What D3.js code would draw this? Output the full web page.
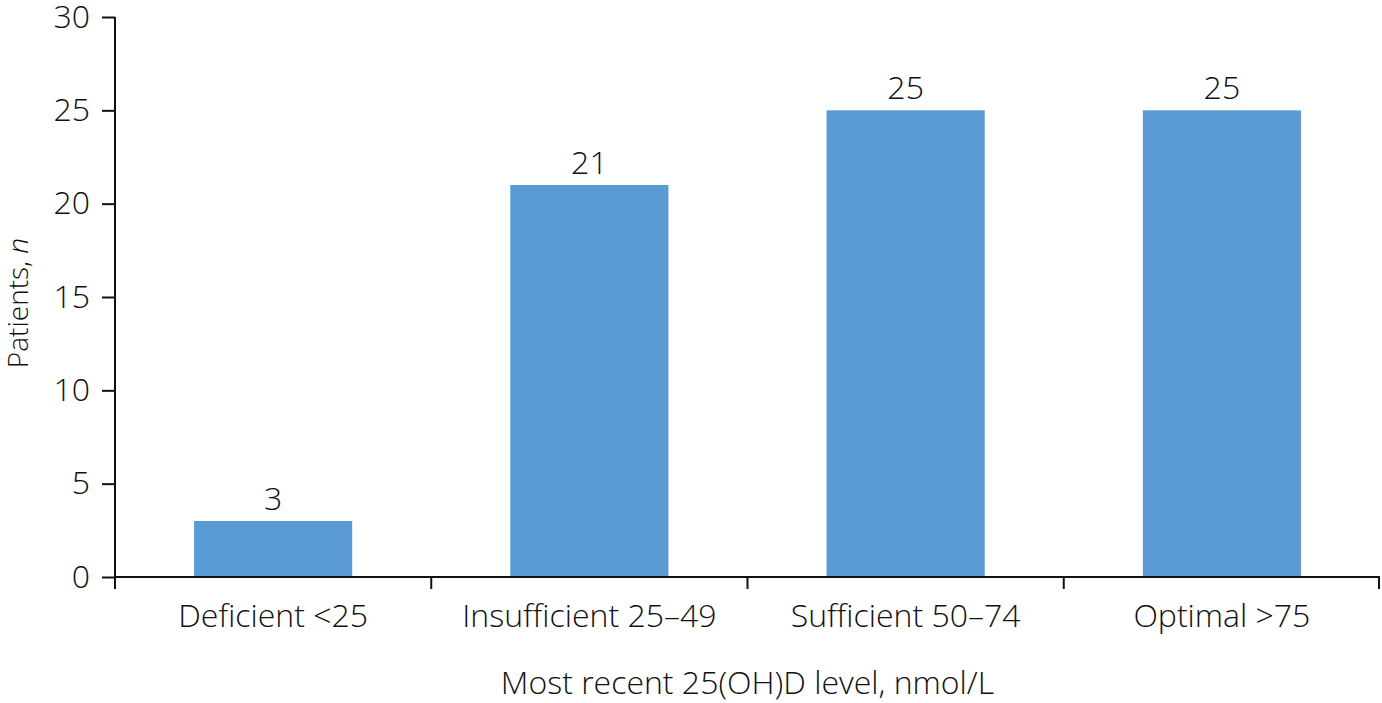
<!DOCTYPE html>
<html><head><meta charset="utf-8">
<script src="https://cdn.jsdelivr.net/npm/d3@7"></script>
<style>body{margin:0;background:#fff}svg text{font-family:"Open Sans",sans-serif;font-weight:300;fill:#111}</style>
</head><body><svg id="c" width="1382" height="703"></svg>
<script>
const categories = ["Deficient <25", "Insufficient 25–49", "Sufficient 50–74", "Optimal >75"];
const values = [3, 21, 25, 25];
const yTicks = [0, 5, 10, 15, 20, 25, 30];
const yTitle = "Patients, ";
const yTitleItalic = "n";
const xTitle = "Most recent 25(OH)D level, nmol/L";

const FS = 32;
const svg = d3.select("#c");
const m = {l: 115, r: 2, t: 17, b: 126};
const W = 1382, H = 703;
const x = d3.scaleBand().domain(categories).range([m.l, W - m.r]).paddingInner(0.5).paddingOuter(0.25);
const y = d3.scaleLinear().domain([0, 30]).range([H - m.b, m.t]);

svg.selectAll("rect.bar").data(values).join("rect").attr("class","bar")
  .attr("x", (d,i) => x(categories[i])).attr("width", x.bandwidth())
  .attr("y", d => y(d)).attr("height", d => y(0) - y(d)).attr("fill", "#5B9BD5");

svg.selectAll("text.val").data(values).join("text").attr("class","val")
  .attr("x", (d,i) => x(categories[i]) + x.bandwidth()/2).attr("y", d => y(d) - 11)
  .attr("text-anchor","middle").attr("font-size", FS).text(d => d);

// y axis
const ya = svg.append("g").attr("transform", `translate(${m.l},0)`)
  .call(d3.axisLeft(y).tickValues(yTicks).tickSize(13).tickPadding(12));
ya.select(".domain").attr("d", `M0,${y(30)}H0V${y(0)+12}`).attr("stroke","#111").attr("stroke-width",2).attr("fill","none");
ya.selectAll(".tick line").attr("stroke","#111").attr("stroke-width",2);
ya.selectAll(".tick text").attr("font-size", FS).attr("font-family","Open Sans").attr("font-weight",300).attr("fill","#111");

// x axis
const xa = svg.append("g").attr("transform", `translate(0,${y(0)})`);
xa.append("line").attr("x1", m.l).attr("x2", W - m.r).attr("stroke","#111").attr("stroke-width",2);
const bd = [m.l].concat(categories.slice(1).map(c => x(c) - (x.step()-x.bandwidth())/2)).concat([W - m.r - 1]);
xa.selectAll("line.t").data(bd).join("line").attr("class","t")
  .attr("x1", d => d).attr("x2", d => d).attr("y1", 0).attr("y2", 12).attr("stroke","#111").attr("stroke-width",2);
xa.selectAll("text.cat").data(categories).join("text").attr("class","cat")
  .attr("x", c => x(c) + x.bandwidth()/2).attr("y", 50).attr("text-anchor","middle").attr("font-size", FS).text(c => c);

svg.append("text").attr("x", (m.l + W - m.r)/2).attr("y", 694).attr("text-anchor","middle").attr("font-size", FS).text(xTitle);
const yt = svg.append("text").attr("transform", `translate(28,303) rotate(-90)`).attr("text-anchor","middle").attr("font-size", 28);
yt.append("tspan").text(yTitle);
yt.append("tspan").attr("font-style","italic").text(yTitleItalic);
</script></body></html>
